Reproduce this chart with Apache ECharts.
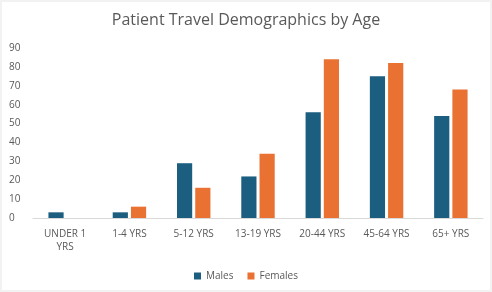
<!DOCTYPE html>
<html>
<head>
<meta charset="utf-8">
<script src="https://cdn.jsdelivr.net/npm/echarts@6/dist/echarts.min.js"></script>
<style>
  html, body { margin: 0; padding: 0; background: #f2f2f2; }
  #main { width: 488px; height: 288px; margin: 2px; background: #fff; }
</style>
</head>
<body>
<div id="main"></div>
<script>
// categories + series values
const ageGroups = ['UNDER 1\nYRS', '1-4 YRS', '5-12 YRS', '13-19 YRS', '20-44 YRS', '45-64 YRS', '65+ YRS']
const males = [3, 3, 29, 22, 56, 75, 54]
const females = [0, 6, 16, 34, 84, 82, 68]

const myChart = echarts.init(document.getElementById('main'))

const option = {
  title: {
    text: 'Patient Travel Demographics by Age',
    left: 'center',
    top: 5,
    textStyle: {
      color: '#595959',
      fontSize: 16,
      fontWeight: 'normal',
      fontFamily: 'Open Sans'
    }
  },
  legend: {
    bottom: 4,
    left: 'center',
    itemWidth: 7,
    itemHeight: 7,
    itemGap: 14,
    icon: 'rect',
    textStyle: { color: '#595959', fontSize: 10, fontFamily: 'Open Sans' }
  },
  grid: {
    left: 31,
    right: 7,
    top: 46,
    bottom: 72
  },
  xAxis: {
    type: 'category',
    data: ageGroups,
    axisTick: { show: false },
    axisLine: { lineStyle: { color: '#d9d9d9' } },
    axisLabel: {
      interval: 0,
      color: '#595959',
      fontSize: 10,
      fontFamily: 'Open Sans',
      margin: 10,
      lineHeight: 13
    }
  },
  yAxis: {
    type: 'value',
    min: 0,
    max: 90,
    interval: 10,
    splitLine: { show: false },
    axisLabel: {
      color: '#595959',
      fontSize: 10,
      fontFamily: 'Open Sans',
      align: 'left',
      margin: 24
    }
  },
  series: [
    {
      name: 'Males',
      type: 'bar',
      data: males,
      barGap: '20%',
      barCategoryGap: '48%',
      itemStyle: { color: '#1b5e80' }
    },
    {
      name: 'Females',
      type: 'bar',
      data: females,
      itemStyle: { color: '#e97132' }
    }
  ]
}
myChart.setOption(option)
</script>
</body>
</html>
